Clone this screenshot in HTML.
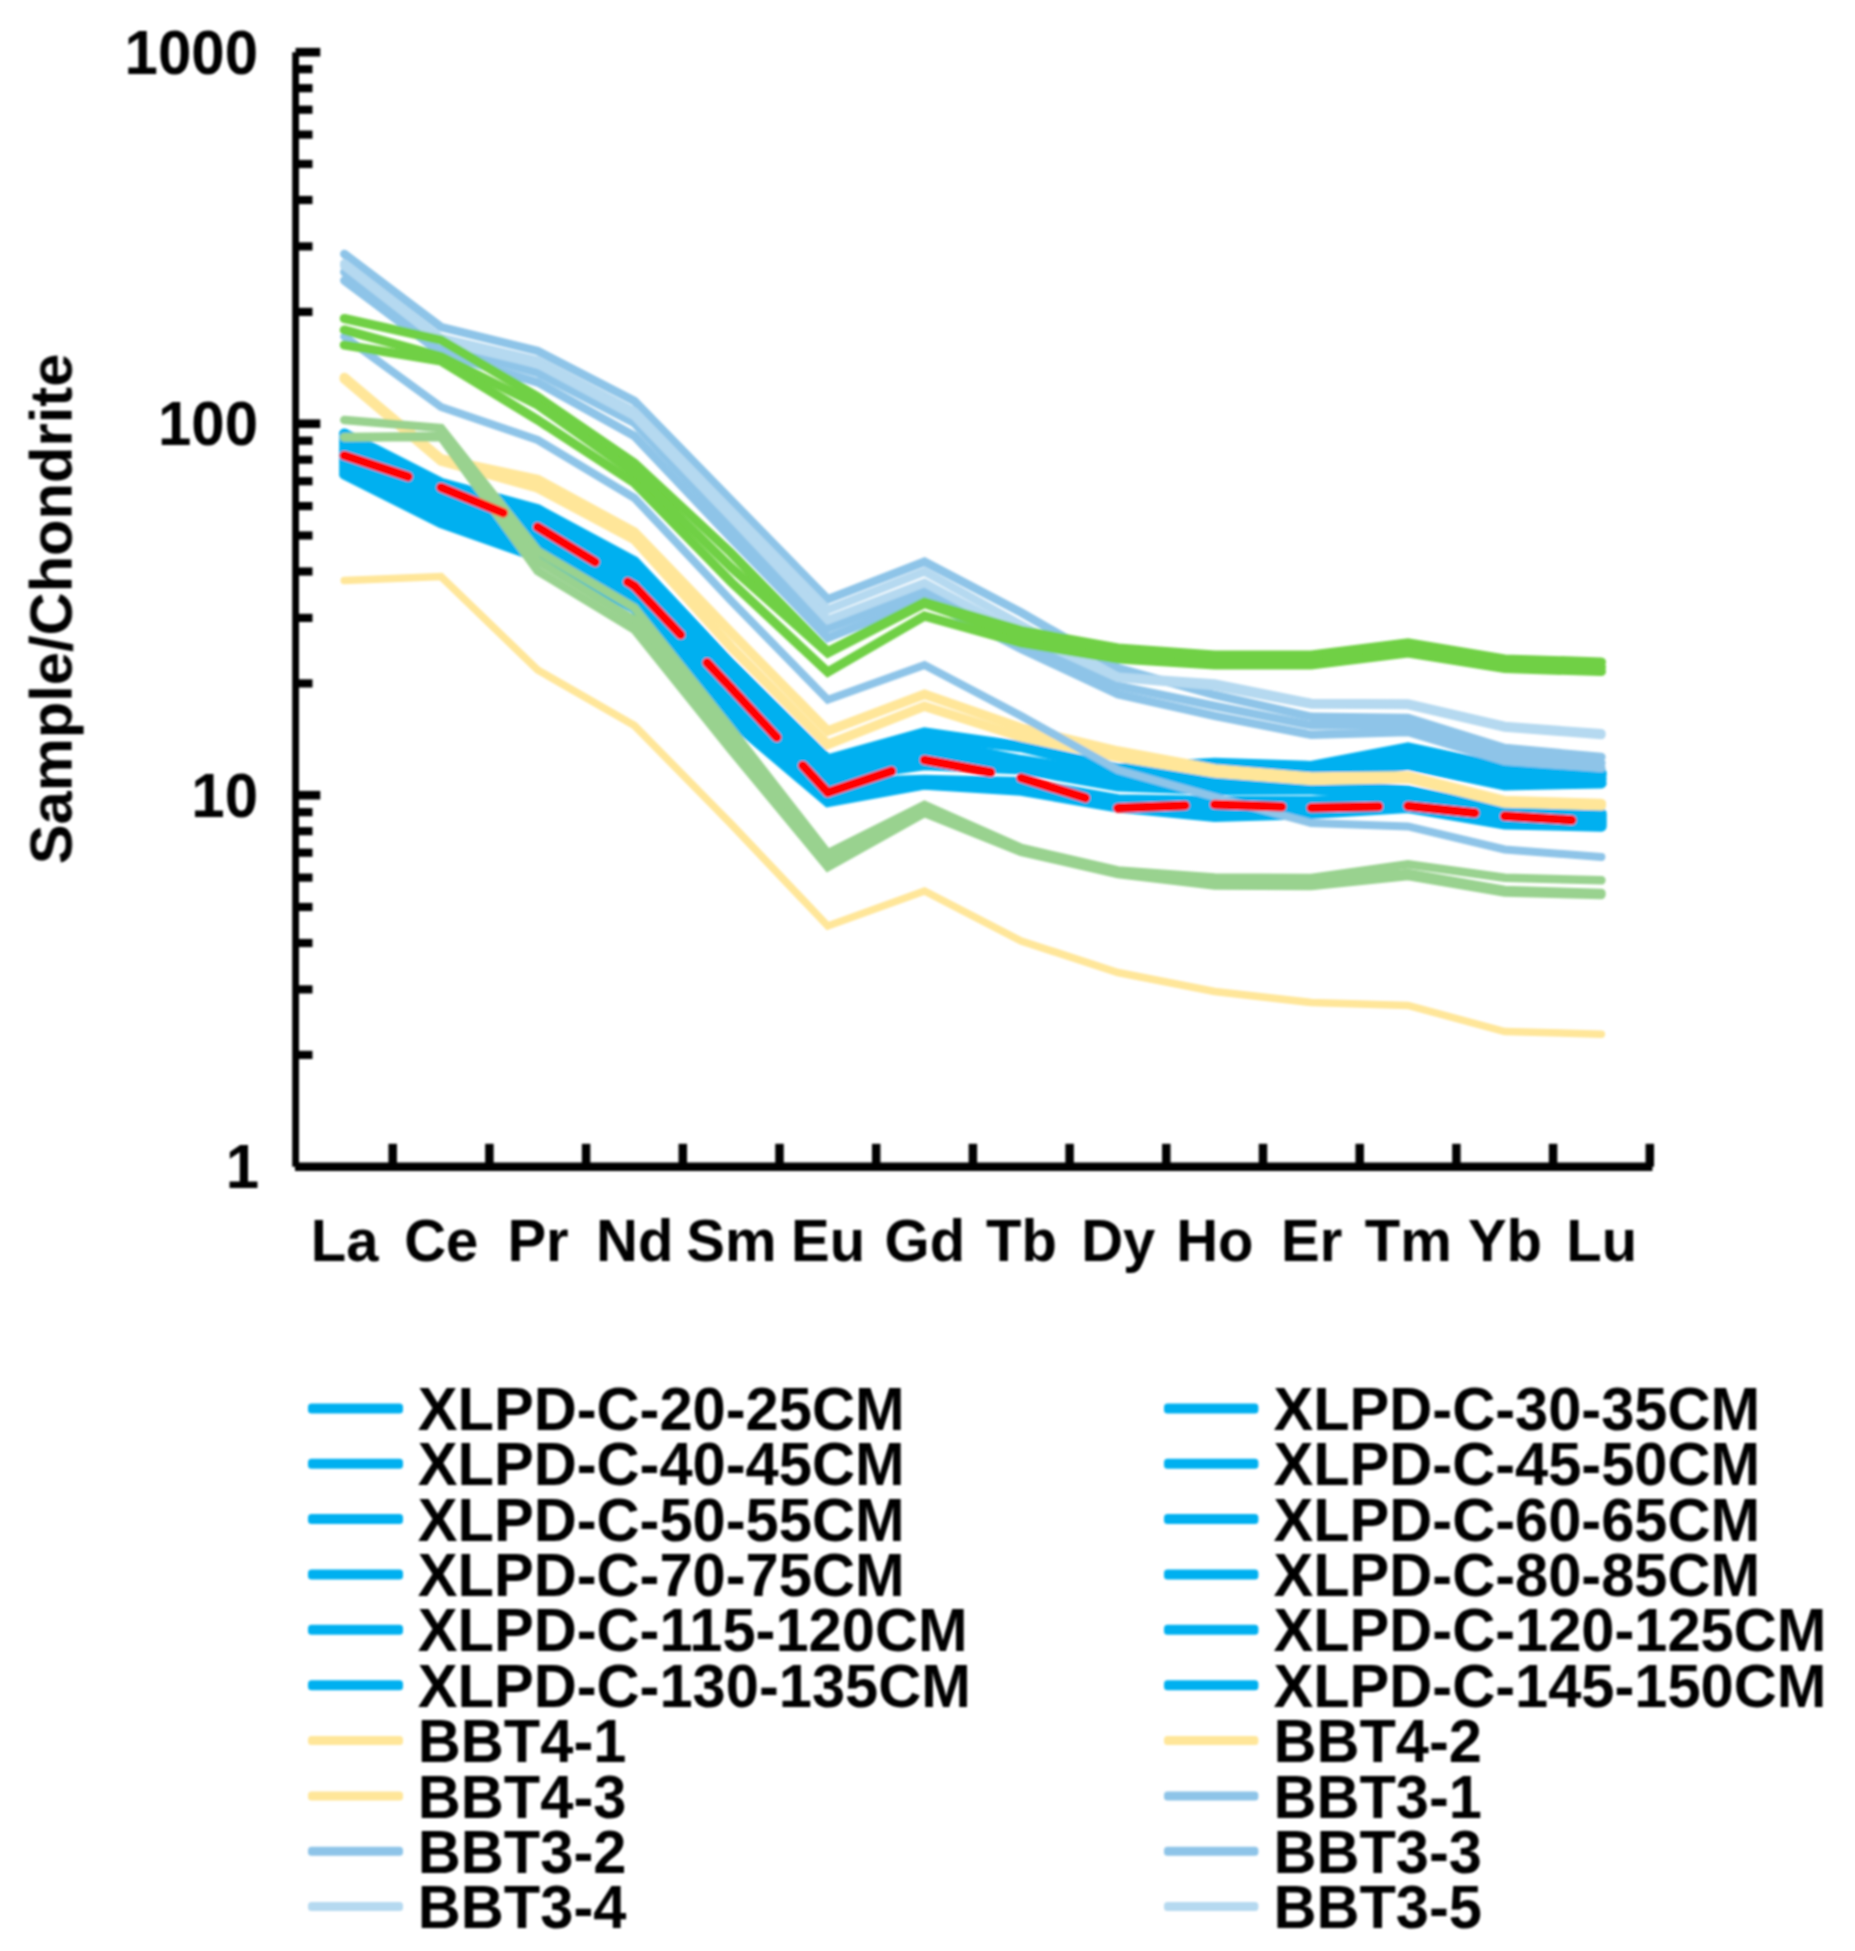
<!DOCTYPE html><html><head><meta charset="utf-8"><title>REE chondrite-normalized pattern</title>
<style>html,body{margin:0;padding:0;background:#fff}svg{display:block}text{font-family:"Liberation Sans",Arial,sans-serif;font-weight:bold;fill:#000}</style></head><body>
<svg width="1855" height="1951" viewBox="0 0 1855 1951">
<defs><filter id="soft" filterUnits="userSpaceOnUse" x="0" y="0" width="1855" height="1951"><feGaussianBlur stdDeviation="0.8"/></filter></defs>
<rect width="1855" height="1951" fill="#fff"/>
<g filter="url(#soft)">
<g fill="none" stroke-linejoin="miter" stroke-linecap="round">
<polyline points="344.3,433.7 441.0,483.0 537.7,509.5 634.4,561.5 731.1,664.0 827.8,759.5 924.5,732.5 1021.2,746.5 1117.9,768.7 1214.6,763.0 1311.3,766.2 1408.0,747.6 1504.7,768.2 1601.4,773.0" stroke="#00B0F0" stroke-width="10.5"/>
<polyline points="344.3,437.4 441.0,486.6 537.7,513.8 634.4,565.7 731.1,669.1 827.8,763.4 924.5,736.0 1021.2,747.0 1117.9,771.0 1214.6,765.0 1311.3,768.0 1408.0,752.0 1504.7,772.0 1601.4,775.0" stroke="#00B0F0" stroke-width="10.5"/>
<polyline points="344.3,441.1 441.0,490.3 537.7,518.1 634.4,570.0 731.1,674.2 827.8,767.2 924.5,741.0 1021.2,760.3 1117.9,775.0 1214.6,772.0 1311.3,774.0 1408.0,756.0 1504.7,778.0 1601.4,779.0" stroke="#00B0F0" stroke-width="10.5"/>
<polyline points="344.3,444.8 441.0,493.9 537.7,522.5 634.4,574.2 731.1,679.3 827.8,771.1 924.5,749.0 1021.2,763.3 1117.9,778.7 1214.6,778.0 1311.3,779.0 1408.0,764.8 1504.7,785.2 1601.4,783.2" stroke="#00B0F0" stroke-width="10.5"/>
<polyline points="344.3,448.5 441.0,497.5 537.7,526.8 634.4,578.4 731.1,684.4 827.8,775.0 924.5,757.0 1021.2,766.3 1117.9,782.5 1214.6,784.0 1311.3,784.5 1408.0,790.6 1504.7,810.2 1601.4,813.3" stroke="#00B0F0" stroke-width="10.5"/>
<polyline points="344.3,452.2 441.0,501.2 537.7,531.1 634.4,582.6 731.1,689.5 827.8,778.8 924.5,765.0 1021.2,769.2 1117.9,786.2 1214.6,789.8 1311.3,789.5 1408.0,793.0 1504.7,812.0 1601.4,815.0" stroke="#00B0F0" stroke-width="10.5"/>
<polyline points="344.3,455.8 441.0,504.8 537.7,535.4 634.4,586.9 731.1,694.5 827.8,782.7 924.5,780.0 1021.2,782.3 1117.9,799.5 1214.6,801.0 1311.3,801.3 1408.0,796.0 1504.7,815.0 1601.4,817.0" stroke="#00B0F0" stroke-width="10.5"/>
<polyline points="344.3,459.5 441.0,508.5 537.7,539.7 634.4,591.1 731.1,699.6 827.8,786.5 924.5,781.0 1021.2,784.0 1117.9,801.0 1214.6,804.0 1311.3,803.8 1408.0,798.4 1504.7,816.8 1601.4,818.9" stroke="#00B0F0" stroke-width="10.5"/>
<polyline points="344.3,463.2 441.0,512.1 537.7,544.0 634.4,595.3 731.1,704.7 827.8,790.4 924.5,782.0 1021.2,785.6 1117.9,802.6 1214.6,807.3 1311.3,806.3 1408.0,800.7 1504.7,818.7 1601.4,820.8" stroke="#00B0F0" stroke-width="10.5"/>
<polyline points="344.3,466.9 441.0,515.7 537.7,548.4 634.4,599.5 731.1,709.8 827.8,794.3 924.5,783.0 1021.2,787.2 1117.9,804.2 1214.6,810.5 1311.3,808.8 1408.0,803.0 1504.7,820.5 1601.4,822.6" stroke="#00B0F0" stroke-width="10.5"/>
<polyline points="344.3,470.6 441.0,519.4 537.7,552.7 634.4,603.8 731.1,714.9 827.8,798.1 924.5,784.0 1021.2,788.9 1117.9,805.8 1214.6,813.6 1311.3,811.3 1408.0,805.4 1504.7,822.4 1601.4,824.5" stroke="#00B0F0" stroke-width="10.5"/>
<polyline points="344.3,474.3 441.0,523.0 537.7,557.0 634.4,608.0 731.1,720.0 827.8,802.0 924.5,784.4 1021.2,790.5 1117.9,807.4 1214.6,816.8 1311.3,813.8 1408.0,807.8 1504.7,824.2 1601.4,826.4" stroke="#00B0F0" stroke-width="10.5"/>
<polyline points="344.3,377.5 441.0,459.0 537.7,479.5 634.4,532.0 731.1,632.5 827.8,731.0 924.5,694.3 1021.2,728.0 1117.9,751.0 1214.6,769.0 1311.3,777.0 1408.0,776.0 1504.7,800.5 1601.4,803.5" stroke="#FFE699" stroke-width="9.5"/>
<polyline points="344.3,379.0 441.0,461.0 537.7,488.0 634.4,539.6 731.1,647.0 827.8,744.5 924.5,706.2 1021.2,737.0 1117.9,757.0 1214.6,773.0 1311.3,780.5 1408.0,778.5 1504.7,803.0 1601.4,805.7" stroke="#FFE699" stroke-width="9.5"/>
<polyline points="344.3,580.5 441.0,576.5 537.7,670.0 634.4,725.5 731.1,824.0 827.8,926.0 924.5,891.0 1021.2,941.0 1117.9,972.5 1214.6,991.5 1311.3,1002.5 1408.0,1005.5 1504.7,1031.5 1601.4,1034.2" stroke="#FFE699" stroke-width="7.5"/>
<polyline points="344.3,254.0 441.0,327.0 537.7,351.0 634.4,401.0 731.1,500.3 827.8,599.2 924.5,561.7 1021.2,612.5 1117.9,668.0 1214.6,695.0 1311.3,716.8 1408.0,718.0 1504.7,748.0 1601.4,757.0" stroke="#8EC4E8" stroke-width="8.5"/>
<polyline points="344.3,272.0 441.0,346.0 537.7,373.0 634.4,423.0 731.1,527.0 827.8,628.6 924.5,591.5 1021.2,641.0 1117.9,685.8 1214.6,706.0 1311.3,725.3 1408.0,725.0 1504.7,755.0 1601.4,763.0" stroke="#8EC4E8" stroke-width="8.5"/>
<polyline points="344.3,280.5 441.0,353.0 537.7,382.4 634.4,436.0 731.1,538.0 827.8,638.0 924.5,599.0 1021.2,649.0 1117.9,694.2 1214.6,715.9 1311.3,734.8 1408.0,732.0 1504.7,761.0 1601.4,768.0" stroke="#8EC4E8" stroke-width="8.5"/>
<polyline points="344.3,336.5 441.0,407.0 537.7,440.0 634.4,498.0 731.1,600.7 827.8,699.7 924.5,665.0 1021.2,716.0 1117.9,770.0 1214.6,797.0 1311.3,823.0 1408.0,826.4 1504.7,849.5 1601.4,857.0" stroke="#8EC4E8" stroke-width="8"/>
<polyline points="344.3,263.4 441.0,338.0 537.7,360.6 634.4,411.5 731.1,511.0 827.8,609.7 924.5,571.5 1021.2,625.0 1117.9,676.7 1214.6,683.5 1311.3,703.0 1408.0,703.4 1504.7,726.0 1601.4,733.3" stroke="#B5D9F0" stroke-width="8.5"/>
<polyline points="344.3,266.0 441.0,341.0 537.7,364.0 634.4,416.0 731.1,517.0 827.8,620.0 924.5,583.0 1021.2,634.0 1117.9,677.8 1214.6,686.0 1311.3,704.5 1408.0,705.0 1504.7,727.5 1601.4,735.0" stroke="#B5D9F0" stroke-width="8.5"/>
<polyline points="344.3,318.5 441.0,340.0 537.7,397.0 634.4,463.0 731.1,553.0 827.8,651.7 924.5,602.3 1021.2,630.5 1117.9,648.0 1214.6,655.0 1311.3,655.0 1408.0,643.0 1504.7,659.0 1601.4,662.0" stroke="#70D044" stroke-width="9.2"/>
<polyline points="344.3,330.0 441.0,356.5 537.7,405.0 634.4,473.0 731.1,567.5 827.8,653.0 924.5,603.5 1021.2,637.0 1117.9,653.5 1214.6,660.0 1311.3,660.0 1408.0,648.0 1504.7,664.0 1601.4,667.0" stroke="#70D044" stroke-width="9.2"/>
<polyline points="344.3,345.0 441.0,361.0 537.7,420.0 634.4,483.0 731.1,582.0 827.8,672.0 924.5,616.0 1021.2,643.0 1117.9,659.0 1214.6,665.0 1311.3,665.0 1408.0,653.0 1504.7,668.5 1601.4,671.5" stroke="#70D044" stroke-width="9.2"/>
<polyline points="344.3,420.0 441.0,428.0 537.7,551.0 634.4,607.8 731.1,729.0 827.8,853.3 924.5,805.0 1021.2,848.0 1117.9,870.5 1214.6,877.5 1311.3,878.0 1408.0,864.3 1504.7,877.8 1601.4,880.3" stroke="#99D28F" stroke-width="8.5"/>
<polyline points="344.3,437.0 441.0,436.0 537.7,561.0 634.4,620.0 731.1,740.0 827.8,862.0 924.5,809.0 1021.2,850.0 1117.9,872.5 1214.6,881.5 1311.3,882.0 1408.0,873.0 1504.7,890.0 1601.4,893.0" stroke="#99D28F" stroke-width="8.5"/>
<polyline points="344.3,437.5 441.0,437.0 537.7,571.0 634.4,629.6 731.1,750.0 827.8,867.0 924.5,813.0 1021.2,852.0 1117.9,874.0 1214.6,885.5 1311.3,886.0 1408.0,876.0 1504.7,892.5 1601.4,895.0" stroke="#99D28F" stroke-width="8.5"/>
<line x1="344.3" y1="455.5" x2="441.0" y2="487.5" stroke="#FF0000" stroke-width="9.6" stroke-dasharray="67.2 38.4"/>
<line x1="441.0" y1="487.5" x2="537.7" y2="527.0" stroke="#FF0000" stroke-width="9.6" stroke-dasharray="67.2 38.4"/>
<line x1="537.7" y1="527.0" x2="634.4" y2="586.0" stroke="#FF0000" stroke-width="9.6" stroke-dasharray="67.2 38.4"/>
<line x1="634.4" y1="586.0" x2="731.1" y2="688.0" stroke="#FF0000" stroke-width="9.6" stroke-dasharray="67.2 38.4"/>
<line x1="731.1" y1="688.0" x2="827.8" y2="792.5" stroke="#FF0000" stroke-width="9.6" stroke-dasharray="67.2 38.4"/>
<line x1="827.8" y1="792.5" x2="924.5" y2="760.0" stroke="#FF0000" stroke-width="9.6" stroke-dasharray="67.2 38.4"/>
<line x1="924.5" y1="760.0" x2="1021.2" y2="778.0" stroke="#FF0000" stroke-width="9.6" stroke-dasharray="67.2 38.4"/>
<line x1="1021.2" y1="778.0" x2="1117.9" y2="808.0" stroke="#FF0000" stroke-width="9.6" stroke-dasharray="67.2 38.4"/>
<line x1="1117.9" y1="808.0" x2="1214.6" y2="804.5" stroke="#FF0000" stroke-width="9.6" stroke-dasharray="67.2 38.4"/>
<line x1="1214.6" y1="804.5" x2="1311.3" y2="807.8" stroke="#FF0000" stroke-width="9.6" stroke-dasharray="67.2 38.4"/>
<line x1="1311.3" y1="807.8" x2="1408.0" y2="806.0" stroke="#FF0000" stroke-width="9.6" stroke-dasharray="67.2 38.4"/>
<line x1="1408.0" y1="806.0" x2="1504.7" y2="816.0" stroke="#FF0000" stroke-width="9.6" stroke-dasharray="67.2 38.4"/>
<line x1="1504.7" y1="816.0" x2="1601.4" y2="822.0" stroke="#FF0000" stroke-width="9.6" stroke-dasharray="67.2 38.4"/>
</g>
<g stroke="#000" fill="none">
<line x1="295.6" y1="52.2" x2="295.6" y2="1166.7" stroke-width="6.8"/>
<line x1="295.0" y1="1166.7" x2="1652.4" y2="1166.7" stroke-width="8.6"/>
<line x1="295.6" y1="1054.9" x2="312.5" y2="1054.9" stroke-width="8.2"/>
<line x1="295.6" y1="989.4" x2="312.5" y2="989.4" stroke-width="8.2"/>
<line x1="295.6" y1="943.0" x2="312.5" y2="943.0" stroke-width="8.2"/>
<line x1="295.6" y1="907.0" x2="312.5" y2="907.0" stroke-width="8.2"/>
<line x1="295.6" y1="877.6" x2="312.5" y2="877.6" stroke-width="8.2"/>
<line x1="295.6" y1="852.7" x2="312.5" y2="852.7" stroke-width="8.2"/>
<line x1="295.6" y1="831.2" x2="312.5" y2="831.2" stroke-width="8.2"/>
<line x1="295.6" y1="812.2" x2="312.5" y2="812.2" stroke-width="8.2"/>
<line x1="295.6" y1="795.2" x2="320.3" y2="795.2" stroke-width="8.6"/>
<line x1="295.6" y1="683.4" x2="312.5" y2="683.4" stroke-width="8.2"/>
<line x1="295.6" y1="617.9" x2="312.5" y2="617.9" stroke-width="8.2"/>
<line x1="295.6" y1="571.5" x2="312.5" y2="571.5" stroke-width="8.2"/>
<line x1="295.6" y1="535.5" x2="312.5" y2="535.5" stroke-width="8.2"/>
<line x1="295.6" y1="506.1" x2="312.5" y2="506.1" stroke-width="8.2"/>
<line x1="295.6" y1="481.2" x2="312.5" y2="481.2" stroke-width="8.2"/>
<line x1="295.6" y1="459.7" x2="312.5" y2="459.7" stroke-width="8.2"/>
<line x1="295.6" y1="440.7" x2="312.5" y2="440.7" stroke-width="8.2"/>
<line x1="295.6" y1="423.7" x2="320.3" y2="423.7" stroke-width="8.6"/>
<line x1="295.6" y1="311.9" x2="312.5" y2="311.9" stroke-width="8.2"/>
<line x1="295.6" y1="246.4" x2="312.5" y2="246.4" stroke-width="8.2"/>
<line x1="295.6" y1="200.0" x2="312.5" y2="200.0" stroke-width="8.2"/>
<line x1="295.6" y1="164.0" x2="312.5" y2="164.0" stroke-width="8.2"/>
<line x1="295.6" y1="134.6" x2="312.5" y2="134.6" stroke-width="8.2"/>
<line x1="295.6" y1="109.7" x2="312.5" y2="109.7" stroke-width="8.2"/>
<line x1="295.6" y1="88.2" x2="312.5" y2="88.2" stroke-width="8.2"/>
<line x1="295.6" y1="69.2" x2="312.5" y2="69.2" stroke-width="8.2"/>
<line x1="295.6" y1="52.2" x2="320.3" y2="52.2" stroke-width="8.6"/>
<line x1="392.7" y1="1143.8" x2="392.7" y2="1166.7" stroke-width="8.5"/>
<line x1="489.4" y1="1143.8" x2="489.4" y2="1166.7" stroke-width="8.5"/>
<line x1="586.1" y1="1143.8" x2="586.1" y2="1166.7" stroke-width="8.5"/>
<line x1="682.8" y1="1143.8" x2="682.8" y2="1166.7" stroke-width="8.5"/>
<line x1="779.5" y1="1143.8" x2="779.5" y2="1166.7" stroke-width="8.5"/>
<line x1="876.2" y1="1143.8" x2="876.2" y2="1166.7" stroke-width="8.5"/>
<line x1="972.9" y1="1143.8" x2="972.9" y2="1166.7" stroke-width="8.5"/>
<line x1="1069.6" y1="1143.8" x2="1069.6" y2="1166.7" stroke-width="8.5"/>
<line x1="1166.3" y1="1143.8" x2="1166.3" y2="1166.7" stroke-width="8.5"/>
<line x1="1263.0" y1="1143.8" x2="1263.0" y2="1166.7" stroke-width="8.5"/>
<line x1="1359.7" y1="1143.8" x2="1359.7" y2="1166.7" stroke-width="8.5"/>
<line x1="1456.4" y1="1143.8" x2="1456.4" y2="1166.7" stroke-width="8.5"/>
<line x1="1553.1" y1="1143.8" x2="1553.1" y2="1166.7" stroke-width="8.5"/>
<line x1="1649.8" y1="1143.8" x2="1649.8" y2="1166.7" stroke-width="8.5"/>
</g>
<text transform="translate(259.2,1188.3) scale(1,1.04)" font-size="60" text-anchor="end">1</text>
<text transform="translate(258.0,816.8) scale(1,1.04)" font-size="60" text-anchor="end">10</text>
<text transform="translate(258.0,445.3) scale(1,1.04)" font-size="60" text-anchor="end">100</text>
<text transform="translate(258.0,73.8) scale(1,1.04)" font-size="60" text-anchor="end">1000</text>
<text transform="translate(344.6,1260.6) scale(1,1.03)" font-size="58" text-anchor="middle">La</text>
<text transform="translate(441.3,1260.6) scale(1,1.03)" font-size="58" text-anchor="middle">Ce</text>
<text transform="translate(538.0,1260.6) scale(1,1.03)" font-size="58" text-anchor="middle">Pr</text>
<text transform="translate(634.7,1260.6) scale(1,1.03)" font-size="58" text-anchor="middle">Nd</text>
<text transform="translate(731.4,1260.6) scale(1,1.03)" font-size="58" text-anchor="middle">Sm</text>
<text transform="translate(828.1,1260.6) scale(1,1.03)" font-size="58" text-anchor="middle">Eu</text>
<text transform="translate(924.8,1260.6) scale(1,1.03)" font-size="58" text-anchor="middle">Gd</text>
<text transform="translate(1021.5,1260.6) scale(1,1.03)" font-size="58" text-anchor="middle">Tb</text>
<text transform="translate(1118.2,1260.6) scale(1,1.03)" font-size="58" text-anchor="middle">Dy</text>
<text transform="translate(1214.9,1260.6) scale(1,1.03)" font-size="58" text-anchor="middle">Ho</text>
<text transform="translate(1311.6,1260.6) scale(1,1.03)" font-size="58" text-anchor="middle">Er</text>
<text transform="translate(1408.3,1260.6) scale(1,1.03)" font-size="58" text-anchor="middle">Tm</text>
<text transform="translate(1505.0,1260.6) scale(1,1.03)" font-size="58" text-anchor="middle">Yb</text>
<text transform="translate(1601.7,1260.6) scale(1,1.03)" font-size="58" text-anchor="middle">Lu</text>
<text transform="translate(71.6,609.0) rotate(-90) scale(1,1.0)" font-size="59.7" text-anchor="middle">Sample/Chondrite</text>
<rect x="308" y="1403.4" width="95" height="10" rx="3.5" fill="#00B0F0"/>
<text transform="translate(417.8,1430.0) scale(1,1.04)" font-size="59.6" text-anchor="start">XLPD-C-20-25CM</text>
<rect x="1164" y="1403.4" width="94.4" height="10" rx="3.5" fill="#00B0F0"/>
<text transform="translate(1273.4,1430.0) scale(1,1.04)" font-size="59.6" text-anchor="start">XLPD-C-30-35CM</text>
<rect x="308" y="1458.8" width="95" height="10" rx="3.5" fill="#00B0F0"/>
<text transform="translate(417.8,1485.3) scale(1,1.04)" font-size="59.6" text-anchor="start">XLPD-C-40-45CM</text>
<rect x="1164" y="1458.8" width="94.4" height="10" rx="3.5" fill="#00B0F0"/>
<text transform="translate(1273.4,1485.3) scale(1,1.04)" font-size="59.6" text-anchor="start">XLPD-C-45-50CM</text>
<rect x="308" y="1514.1" width="95" height="10" rx="3.5" fill="#00B0F0"/>
<text transform="translate(417.8,1540.7) scale(1,1.04)" font-size="59.6" text-anchor="start">XLPD-C-50-55CM</text>
<rect x="1164" y="1514.1" width="94.4" height="10" rx="3.5" fill="#00B0F0"/>
<text transform="translate(1273.4,1540.7) scale(1,1.04)" font-size="59.6" text-anchor="start">XLPD-C-60-65CM</text>
<rect x="308" y="1569.5" width="95" height="10" rx="3.5" fill="#00B0F0"/>
<text transform="translate(417.8,1596.0) scale(1,1.04)" font-size="59.6" text-anchor="start">XLPD-C-70-75CM</text>
<rect x="1164" y="1569.5" width="94.4" height="10" rx="3.5" fill="#00B0F0"/>
<text transform="translate(1273.4,1596.0) scale(1,1.04)" font-size="59.6" text-anchor="start">XLPD-C-80-85CM</text>
<rect x="308" y="1624.8" width="95" height="10" rx="3.5" fill="#00B0F0"/>
<text transform="translate(417.8,1651.4) scale(1,1.04)" font-size="59.6" text-anchor="start">XLPD-C-115-120CM</text>
<rect x="1164" y="1624.8" width="94.4" height="10" rx="3.5" fill="#00B0F0"/>
<text transform="translate(1273.4,1651.4) scale(1,1.04)" font-size="59.6" text-anchor="start">XLPD-C-120-125CM</text>
<rect x="308" y="1680.2" width="95" height="10" rx="3.5" fill="#00B0F0"/>
<text transform="translate(417.8,1706.8) scale(1,1.04)" font-size="59.6" text-anchor="start">XLPD-C-130-135CM</text>
<rect x="1164" y="1680.2" width="94.4" height="10" rx="3.5" fill="#00B0F0"/>
<text transform="translate(1273.4,1706.8) scale(1,1.04)" font-size="59.6" text-anchor="start">XLPD-C-145-150CM</text>
<rect x="308" y="1736.0" width="95" height="9" rx="3.5" fill="#FFE699"/>
<text transform="translate(417.8,1762.1) scale(1,1.04)" font-size="59.6" text-anchor="start">BBT4-1</text>
<rect x="1164" y="1736.0" width="94.4" height="9" rx="3.5" fill="#FFE699"/>
<text transform="translate(1273.4,1762.1) scale(1,1.04)" font-size="59.6" text-anchor="start">BBT4-2</text>
<rect x="308" y="1791.4" width="95" height="9" rx="3.5" fill="#FFE699"/>
<text transform="translate(417.8,1817.5) scale(1,1.04)" font-size="59.6" text-anchor="start">BBT4-3</text>
<rect x="1164" y="1791.4" width="94.4" height="9" rx="3.5" fill="#8EC4E8"/>
<text transform="translate(1273.4,1817.5) scale(1,1.04)" font-size="59.6" text-anchor="start">BBT3-1</text>
<rect x="308" y="1846.7" width="95" height="9" rx="3.5" fill="#8EC4E8"/>
<text transform="translate(417.8,1872.8) scale(1,1.04)" font-size="59.6" text-anchor="start">BBT3-2</text>
<rect x="1164" y="1846.7" width="94.4" height="9" rx="3.5" fill="#8EC4E8"/>
<text transform="translate(1273.4,1872.8) scale(1,1.04)" font-size="59.6" text-anchor="start">BBT3-3</text>
<rect x="308" y="1902.1" width="95" height="9" rx="3.5" fill="#B5D9F0"/>
<text transform="translate(417.8,1928.2) scale(1,1.04)" font-size="59.6" text-anchor="start">BBT3-4</text>
<rect x="1164" y="1902.1" width="94.4" height="9" rx="3.5" fill="#B5D9F0"/>
<text transform="translate(1273.4,1928.2) scale(1,1.04)" font-size="59.6" text-anchor="start">BBT3-5</text>
</g>
</svg></body></html>
